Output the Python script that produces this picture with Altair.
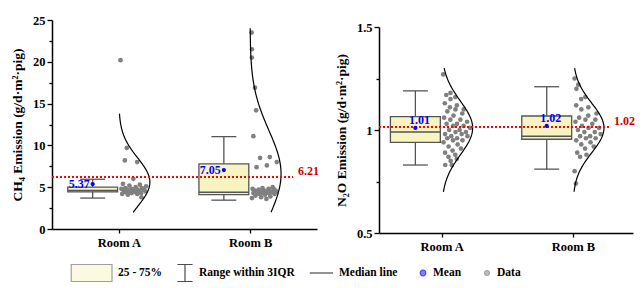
import altair as alt
import numpy as np
import pandas as pd

rooms = ["Room A", "Room B"]
room_pos = [1, 2]

# ---------------- CH4 data ----------------
ch4_a = [20.2, 9.7, 8.2, 8.0, 6.0, 5.4, 5.3, 5.2, 5.1, 5.0, 4.9, 4.9, 4.8, 4.8, 4.7,
         4.7, 4.7, 4.6, 4.6, 4.5, 4.5, 4.5, 4.4, 4.4, 4.3, 4.3, 4.2, 4.2, 4.1, 3.8]
ch4_b = [23.5, 21.5, 20.5, 16.9, 14.2, 11.1, 8.6, 8.5, 8.0, 7.6, 7.4, 5.0, 4.9, 4.8,
         4.8, 4.7, 4.7, 4.6, 4.6, 4.5, 4.5, 4.5, 4.4, 4.4, 4.4, 4.3, 4.3, 4.3, 4.2,
         4.2, 4.1, 4.0, 3.9, 3.8, 3.7, 3.6]
ch4_q1 = [4.45, 4.10]
ch4_med = [4.62, 4.40]
ch4_q3 = [5.00, 7.80]
ch4_lo = [3.70, 3.45]
ch4_hi = [5.95, 11.05]
ch4_mean = [5.37, 7.05]
ch4_overall = 6.21
ch4_fit_mu = [5.6, 6.6]
ch4_fit_sd = [2.9, 5.2]
ch4_fit_lo = [2.0, 2.0]
ch4_fit_hi = [13.8, 24.0]

# ---------------- N2O data ----------------
n2o_a = [1.27, 1.18, 1.17, 1.16, 1.15, 1.13, 1.12, 1.11, 1.10, 1.10, 1.09, 1.08, 1.07,
         1.06, 1.05, 1.05, 1.04, 1.03, 1.03, 1.02, 1.02, 1.01, 1.00, 1.00, 0.99, 0.99,
         0.98, 0.98, 0.97, 0.97, 0.96, 0.96, 0.95, 0.95, 0.94, 0.93, 0.92, 0.91, 0.90,
         0.89, 0.88, 0.87, 0.86, 0.85, 0.83, 0.83]
n2o_b = [1.25, 1.22, 1.20, 1.16, 1.15, 1.12, 1.11, 1.10, 1.08, 1.07, 1.06, 1.05, 1.05,
         1.04, 1.03, 1.02, 1.01, 1.01, 1.00, 0.99, 0.99, 0.98, 0.97, 0.97, 0.96, 0.96,
         0.95, 0.94, 0.93, 0.92, 0.91, 0.89, 0.88, 0.87, 0.80, 0.74]
n2o_q1 = [0.94, 0.955]
n2o_med = [0.99, 0.97]
n2o_q3 = [1.065, 1.068]
n2o_lo = [0.83, 0.81]
n2o_hi = [1.19, 1.21]
n2o_mean = [1.01, 1.02]
n2o_overall = 1.015
n2o_overall_label = "1.02"
n2o_fit_mu = [1.01, 1.01]
n2o_fit_sd = [0.13, 0.12]
n2o_fit_lo = [0.70, 0.70]
n2o_fit_hi = [1.30, 1.30]

legend_items = ["25 - 75%", "Range within 3IQR", "Median line", "Mean", "Data"]

FONT = "Liberation Serif"
BOX_FILL = "#f8f4c2"
DARK = "#555555"


def panel(vals, q1, med, q3, lo, hi, mean, overall, overall_label, mu, sd, flo, fhi,
          ydomain, yvalues, ytest, ytitle, width, height, xdomain, line_end,
          mean_above, with_legend=False):
    xscale = alt.Scale(domain=xdomain, nice=False, zero=False)
    yscale = alt.Scale(domain=ydomain, nice=False, zero=False)
    xaxis = alt.Axis(values=room_pos, labelExpr="datum.value == 1 ? 'Room A' : 'Room B'",
                     title=None, grid=False, tickSize=4, labelFontSize=12.5,
                     labelPadding=3)
    yaxis = alt.Axis(values=yvalues, title=ytitle, grid=False,
                     labelExpr=f"({ytest}) ? format(datum.value, '') : ''",
                     tickSize={"condition": {"test": ytest, "value": 5}, "value": 3},
                     labelFontSize=12.5, labelPadding=2, titlePadding=8,
                     titleFontSize=13.5)

    def X(f):
        return alt.X(f, type="quantitative", scale=xscale, axis=xaxis)

    def Y(f):
        return alt.Y(f, type="quantitative", scale=yscale, axis=yaxis)

    box = pd.DataFrame({
        "room": rooms, "pos": room_pos, "q1": q1, "med": med, "q3": q3,
        "lo": lo, "hi": hi, "mean": mean,
    })
    box["mean_lbl"] = [f"{m:.2f}" for m in mean]
    box["xb0"] = box["pos"] - 0.39
    box["xb1"] = box["pos"] - 0.01
    box["xc"] = box["pos"] - 0.20
    box["c0"] = box["pos"] - 0.295
    box["c1"] = box["pos"] - 0.105

    pts = []
    for r, p, vs, m, s in zip(rooms, room_pos, vals, mu, sd):
        for i, v in enumerate(vs):
            dens = np.exp(-0.5 * ((v - m) / s) ** 2)
            frac = (i * 0.618034) % 1.0
            pts.append({"room": r, "v": v, "xj": p + 0.012 + frac * 0.21 * dens})
    pts = pd.DataFrame(pts)

    curve = []
    for r, p, m, s, a, b in zip(rooms, room_pos, mu, sd, flo, fhi):
        for y in np.linspace(a, b, 120):
            curve.append({"room": r, "cy": y,
                          "cx": p + 0.236 * np.exp(-0.5 * ((y - m) / s) ** 2)})
    curve = pd.DataFrame(curve)

    ov = pd.DataFrame({"x0": [xdomain[0]], "x1": [line_end], "y": [overall],
                       "lbl": [overall_label]})

    base_box = alt.Chart(box)
    whisk = base_box.mark_rule(color=DARK, strokeWidth=1.3).encode(
        x=X("xc"), y=Y("lo"), y2="hi")
    cap_hi = base_box.mark_rule(color=DARK, strokeWidth=1.3).encode(
        x=X("c0"), x2="c1", y=Y("hi"))
    cap_lo = base_box.mark_rule(color=DARK, strokeWidth=1.3).encode(
        x=X("c0"), x2="c1", y=Y("lo"))
    rect = base_box.mark_rect(fill=BOX_FILL, stroke=DARK, strokeWidth=1.3).encode(
        x=X("xb0"), x2="xb1", y=Y("q1"), y2="q3")
    medl = base_box.mark_rule(color=DARK, strokeWidth=1.5).encode(
        x=X("xb0"), x2="xb1", y=Y("med"))
    meanpt = base_box.mark_circle(color="#0000ff", size=18, opacity=1).encode(
        x=X("xc"), y=Y("mean"))
    if mean_above:
        meantx = base_box.mark_text(color="#0000ff", font=FONT, fontWeight="bold",
                                    fontSize=12, align="center", baseline="bottom",
                                    dx=4, dy=-1).encode(
            x=X("xc"), y=Y("mean"), text="mean_lbl")
    else:
        meantx = base_box.mark_text(color="#0000ff", font=FONT, fontWeight="bold",
                                    fontSize=12, align="right", baseline="middle",
                                    dx=-3).encode(
            x=X("xc"), y=Y("mean"), text="mean_lbl")

    dots = alt.Chart(pts).mark_circle(color="#808080", size=22, opacity=1).encode(
        x=X("xj"), y=Y("v"))
    line = alt.Chart(curve).mark_line(color="black", strokeWidth=1.2).encode(
        x=X("cx"), y=Y("cy"), detail="room", order="cy:Q")

    ovr = alt.Chart(ov).mark_rule(color="#ff0000", strokeWidth=2,
                                  strokeDash=[2, 2]).encode(
        x=X("x0"), x2="x1", y=Y("y"))
    ovt = alt.Chart(ov).mark_text(color="#cc0000", font=FONT, fontWeight="bold",
                                  fontSize=12, align="left", baseline="bottom",
                                  dx=5, dy=1).encode(x=X("x1"), y=Y("y"), text="lbl")

    layers = [whisk, cap_hi, cap_lo, rect, medl, dots, line, ovr, ovt, meanpt, meantx]

    if with_legend:
        leg = pd.DataFrame({"item": legend_items, "lx": [np.nan] * 5, "ly": [np.nan] * 5})
        shapes = [
            "M-4.1,-1.06H1V1.06H-4.1Z",
            "M-0.95,-1.06H0.95M0,-1.06V1.06M-0.95,1.06H0.95",
            "M-1.9,0H1",
            "M0.15,0A0.35,0.35 0 1,0 0.85,0A0.35,0.35 0 1,0 0.15,0",
            "M0.2,0A0.3,0.3 0 1,0 0.8,0A0.3,0.3 0 1,0 0.2,0",
        ]
        fills = [BOX_FILL, "transparent", "transparent", "#0000ff", "#808080"]
        strokes = ["#777777", "black", "black", "#0000ff", "#808080"]
        legend = alt.Legend(orient="none", legendX=43, legendY=244, direction="horizontal",
                            columns=5, title=None, labelFont=FONT, labelFontSize=11.5,
                            labelFontWeight="bold", labelColor="black", symbolSize=256,
                            labelOffset=5, columnPadding=12, symbolStrokeWidth=1.2,
                            gridAlign="none")
        lg = alt.Chart(leg).mark_point(filled=True).encode(
            x=X("lx"), y=Y("ly"),
            shape=alt.Shape("item:N", scale=alt.Scale(domain=legend_items, range=shapes),
                            legend=legend),
            fill=alt.Fill("item:N", scale=alt.Scale(domain=legend_items, range=fills),
                          legend=legend),
            stroke=alt.Stroke("item:N", scale=alt.Scale(domain=legend_items, range=strokes),
                              legend=legend),
        )
        layers.append(lg)

    return alt.layer(*layers).properties(width=width, height=height)


left = panel([ch4_a, ch4_b], ch4_q1, ch4_med, ch4_q3, ch4_lo, ch4_hi, ch4_mean,
             ch4_overall, "6.21", ch4_fit_mu, ch4_fit_sd, ch4_fit_lo, ch4_fit_hi,
             [0, 25], [i * 2.5 for i in range(11)],
             "abs(datum.value / 5 - round(datum.value / 5)) < 0.001",
             "CH₄ Emission (g/d·m²·pig)", 265, 209, [0.49, 2.51], 2.327, False,
             with_legend=True)

right = panel([n2o_a, n2o_b], n2o_q1, n2o_med, n2o_q3, n2o_lo, n2o_hi, n2o_mean,
              n2o_overall, n2o_overall_label, n2o_fit_mu, n2o_fit_sd, n2o_fit_lo,
              n2o_fit_hi, [0.5, 1.5], [0.5, 0.75, 1.0, 1.25, 1.5],
              "abs(datum.value * 2 - round(datum.value * 2)) < 0.001",
              "N₂O Emission (g/d·m²·pig)", 254, 206, [0.523, 2.457], 2.274, True)

spacer = alt.Chart(pd.DataFrame({"t": [0]})).mark_rule(opacity=0).encode(
    x=alt.value(0), x2=alt.value(1), y=alt.value(0)).properties(width=254, height=1)

right_col = alt.vconcat(spacer, right, spacing=0)

chart = alt.hconcat(left, right_col, spacing=15).properties(
    padding={"left": 10, "top": 14, "right": 5, "bottom": 5},
    background="white",
).configure_view(stroke=None).configure_axis(
    labelFont=FONT, titleFont=FONT, labelFontWeight="bold", titleFontWeight="bold",
    labelColor="black", titleColor="black", domainColor="black", tickColor="black",
    domainWidth=1.5, tickWidth=1.3
)

chart.save("out.html", embed_options={"renderer": "svg", "actions": False})
